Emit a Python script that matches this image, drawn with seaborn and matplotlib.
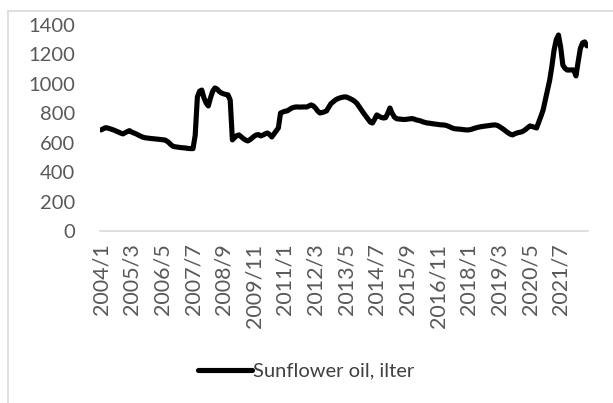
import matplotlib
matplotlib.use("Agg")
import matplotlib.pyplot as plt
from matplotlib.lines import Line2D
import seaborn as sns
import pandas as pd

# Monthly series 2004/1 .. 2022/7
v2004 = [687, 695, 702, 700, 695, 690, 685, 678, 672, 665, 660, 668]
v2005 = [676, 682, 672, 666, 660, 652, 645, 638, 634, 632, 630, 628]
v2006 = [627, 625, 624, 622, 620, 619, 612, 600, 585, 575, 572, 570]
v2007 = [568, 566, 565, 563, 561, 560, 560, 650, 911, 950, 958, 905]
v2008 = [870, 850, 905, 950, 972, 965, 948, 938, 932, 928, 925, 890]
v2009 = [619, 635, 648, 653, 640, 628, 618, 612, 620, 632, 645, 653]
v2010 = [655, 646, 652, 660, 666, 655, 639, 660, 680, 700, 802, 808]
v2011 = [814, 816, 825, 835, 840, 843, 843, 842, 843, 843, 843, 850]
v2012 = [857, 850, 835, 815, 802, 805, 810, 816, 840, 865, 877, 890]
v2013 = [898, 904, 908, 911, 911, 905, 898, 890, 880, 865, 843, 820]
v2014 = [800, 780, 760, 740, 734, 760, 789, 780, 772, 768, 770, 800]
v2015 = [836, 800, 775, 763, 761, 760, 758, 758, 760, 762, 764, 761]
v2016 = [755, 752, 748, 742, 738, 734, 733, 730, 728, 726, 724, 722]
v2017 = [721, 720, 716, 710, 703, 697, 694, 693, 692, 690, 688, 687]
v2018 = [687, 690, 695, 700, 704, 707, 710, 712, 714, 716, 718, 720]
v2019 = [721, 718, 710, 700, 690, 678, 667, 658, 653, 660, 666, 670]
v2020 = [673, 680, 690, 703, 714, 710, 705, 700, 740, 780, 823, 890]
v2021 = [960, 1026, 1120, 1230, 1300, 1332, 1250, 1128, 1105, 1094, 1094, 1095]
v2022 = [1094, 1054, 1150, 1240, 1278, 1285, 1258]

values = (v2004 + v2005 + v2006 + v2007 + v2008 + v2009 + v2010 + v2011 + v2012
          + v2013 + v2014 + v2015 + v2016 + v2017 + v2018 + v2019 + v2020 + v2021 + v2022)
months = [f"{2004 + i // 12}/{i % 12 + 1}" for i in range(len(values))]
series_name = "Sunflower oil, ilter"
yticks = [0, 200, 400, 600, 800, 1000, 1200, 1400]

df = pd.DataFrame({"idx": range(len(values)), "value": values, "month": months})

sns.set_theme(style="white")
plt.rcParams["font.family"] = ["Lato", "DejaVu Sans"]

W, H = 613, 403
fig = plt.figure(figsize=(W / 100, H / 100), dpi=100)
ax = fig.add_axes([100 / W, 1 - 231 / H, 488 / W, 206 / H])

sns.lineplot(data=df, x="idx", y="value", ax=ax, color="black", linewidth=3.7,
             label=series_name, legend=False)

n = len(values)
ax.set_xlim(-0.5, n - 0.5)
ax.set_ylim(0, 1400)
tick_pos = list(range(0, n - 6, 14))
ax.set_xticks(tick_pos)
ax.set_xticklabels([months[i] for i in tick_pos], rotation=90)
ax.set_yticks(yticks)
ax.set_yticklabels([str(t) for t in yticks])
ax.set_xlabel("")
ax.set_ylabel("")
ax.tick_params(axis="both", length=0, colors="#595959")
ax.tick_params(axis="y", pad=18, labelsize=14.5)
ax.tick_params(axis="x", pad=9, labelsize=15.5)
for s in ["top", "right", "left"]:
    ax.spines[s].set_visible(False)
ax.spines["bottom"].set_color("#d9d9d9")
ax.spines["bottom"].set_linewidth(1.2)
ax.grid(False)

# chart-area frame (left and top visible)
fig.add_artist(Line2D([8 / W, 8 / W], [0, 1 - 11 / H], color="#d9d9d9", lw=1.2))
fig.add_artist(Line2D([8 / W, 1], [1 - 11 / H, 1 - 11 / H], color="#d9d9d9", lw=1.2))

handle = Line2D([], [], color="black", linewidth=3.7)
fig.legend([handle], [series_name], loc="center", bbox_to_anchor=(306 / W, 1 - 371 / H),
           frameon=False, fontsize=14.5, handlelength=2.7, handletextpad=0.05,
           labelcolor="#404040")

fig.savefig("out.png", dpi=100)
